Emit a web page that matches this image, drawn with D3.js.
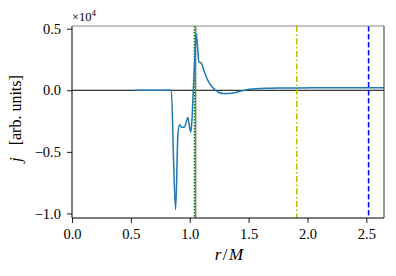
<!DOCTYPE html>
<html>
<head>
<meta charset="utf-8">
<script src="https://cdn.jsdelivr.net/npm/d3@7"></script>
<style>
  html, body { margin: 0; padding: 0; background: #fff; }
  svg text { font-family: "Liberation Serif", "DejaVu Serif", serif; fill: #000; }
</style>
</head>
<body>
<div id="chart"></div>
<script>
// r/M and j (in units of 1e4)
const rValues = [0.531, 0.844, 0.862, 0.880, 0.900, 0.915, 0.930, 0.955, 0.970, 0.985, 0.997, 1.008, 1.019, 1.030, 1.042, 1.056, 1.066, 1.078, 1.099, 1.120, 1.141, 1.165, 1.197, 1.220, 1.240, 1.282, 1.320, 1.367, 1.420, 1.481, 1.560, 1.651, 1.800, 1.934, 2.200, 2.650];
const jValues = [0.0, 0.0, -0.55, -0.97, -0.35, -0.28, -0.30, -0.30, -0.26, -0.22, -0.29, -0.34, -0.24, 0.0, 0.24, 0.46, 0.36, 0.23, 0.22, 0.16, 0.108, 0.06, 0.02, 0.0, -0.014, -0.027, -0.027, -0.022, -0.01, 0.005, 0.012, 0.016, 0.018, 0.019, 0.02, 0.02];

const xTicks = [0.0, 0.5, 1.0, 1.5, 2.0, 2.5];
const yTicks = [-1.0, -0.5, 0.0, 0.5];
const xDomain = [0, 2.65];
const yDomain = [-1.037, 0.522];

// reference radii (vertical lines)
const vGray = 1.05;
const vGreen = 1.04;
const vYellow = 1.909;
const vBlue = 2.519;

const W = 396, H = 276;
const margin = { top: 26, right: 12, bottom: 58, left: 72 };
const width = W - margin.left - margin.right;
const height = H - margin.top - margin.bottom;
const serif = '"Liberation Serif", "DejaVu Serif", serif';

const svg = d3.select('#chart')
  .append('svg')
    .attr('width', W)
    .attr('height', H)
    .attr('font-family', serif)
  .append('g')
    .attr('transform', `translate(${margin.left},${margin.top})`);

const x = d3.scaleLinear().domain(xDomain).range([0, width]);
const y = d3.scaleLinear().domain(yDomain).range([height, 0]);

const fmt = d => d3.format('.1f')(d).replace('-', '\u2212');

// clip for plot content
svg.append('clipPath').attr('id', 'clip')
  .append('rect').attr('width', width).attr('height', height);
const plot = svg.append('g').attr('clip-path', 'url(#clip)');

// horizontal zero line
plot.append('line')
  .attr('x1', 0).attr('x2', width)
  .attr('y1', y(0)).attr('y2', y(0))
  .attr('stroke', '#000').attr('stroke-width', 1);

// vertical markers
plot.append('line')
  .attr('x1', x(vGray)).attr('x2', x(vGray))
  .attr('y1', 0).attr('y2', height)
  .attr('stroke', '#7f7f7f').attr('stroke-width', 1.5);
plot.append('line')
  .attr('x1', x(vGreen)).attr('x2', x(vGreen))
  .attr('y1', 0).attr('y2', height)
  .attr('stroke', '#008000').attr('stroke-width', 1.5)
  .attr('stroke-dasharray', '1.5,1.5');
plot.append('line')
  .attr('x1', x(vYellow)).attr('x2', x(vYellow))
  .attr('y1', 0).attr('y2', height)
  .attr('stroke', '#bfbf00').attr('stroke-width', 1.5)
  .attr('stroke-dasharray', '6,2.5,1.5,2.5');
plot.append('line')
  .attr('x1', x(vBlue)).attr('x2', x(vBlue))
  .attr('y1', 0).attr('y2', height)
  .attr('stroke', '#0000ff').attr('stroke-width', 1.5)
  .attr('stroke-dasharray', '5.5,2.5');

// the curve
const data = rValues.map((r, i) => ({ r: r, j: jValues[i] }));
plot.append('path')
  .datum(data)
  .attr('fill', 'none')
  .attr('stroke', '#1f77b4')
  .attr('stroke-width', 1.5)
  .attr('stroke-linejoin', 'round')
  .attr('d', d3.line()
    .x(d => x(d.r))
    .y(d => y(d.j))
    .curve(d3.curveMonotoneX));

// axes
const xAxis = svg.append('g')
  .attr('transform', `translate(0,${height})`)
  .call(d3.axisBottom(x).tickValues(xTicks).tickFormat(fmt).tickSize(5).tickPadding(6));
const yAxis = svg.append('g')
  .call(d3.axisLeft(y).tickValues(yTicks).tickFormat(fmt).tickSize(5).tickPadding(6));
[xAxis, yAxis].forEach(g => {
  g.attr('font-family', serif).attr('font-size', 14.5);
  g.select('.domain').remove();
  g.selectAll('line').attr('stroke', '#000').attr('stroke-width', 0.9);
  g.selectAll('text').attr('font-family', serif).attr('font-size', 14.5);
});

// spines
svg.append('line').attr('x1', 0).attr('x2', 0).attr('y1', 0).attr('y2', height)
  .attr('stroke', '#000').attr('stroke-width', 1);
svg.append('line').attr('x1', 0).attr('x2', width).attr('y1', height).attr('y2', height)
  .attr('stroke', '#000').attr('stroke-width', 1);
svg.append('line').attr('x1', 0).attr('x2', width).attr('y1', 0).attr('y2', 0)
  .attr('stroke', '#888').attr('stroke-width', 1);
svg.append('line').attr('x1', width).attr('x2', width).attr('y1', 0).attr('y2', height)
  .attr('stroke', '#333').attr('stroke-width', 1);

// offset text
const off = svg.append('text')
  .attr('x', 0).attr('y', -5)
  .attr('font-size', 12.5);
off.append('tspan').text('\u00d710');
off.append('tspan').attr('dy', -5).attr('font-size', 9).text('4');

// axis labels
const xl = svg.append('text')
  .attr('x', width / 2 + 1).attr('y', height + 42)
  .attr('text-anchor', 'middle')
  .attr('font-size', 17);
xl.append('tspan').attr('font-style', 'italic').text('r');
xl.append('tspan').attr('dx', 1.5).text('/');
xl.append('tspan').attr('dx', 1.5).attr('font-style', 'italic').text('M');

const yl = svg.append('text')
  .attr('transform', `translate(${-51},${y(-0.23)}) rotate(-90)`)
  .attr('text-anchor', 'middle')
  .attr('font-size', 16);
yl.append('tspan').attr('font-style', 'italic').attr('font-size', 17).text('j');
yl.append('tspan').text('\u00a0\u00a0\u00a0[arb. units]');
</script>
</body>
</html>
